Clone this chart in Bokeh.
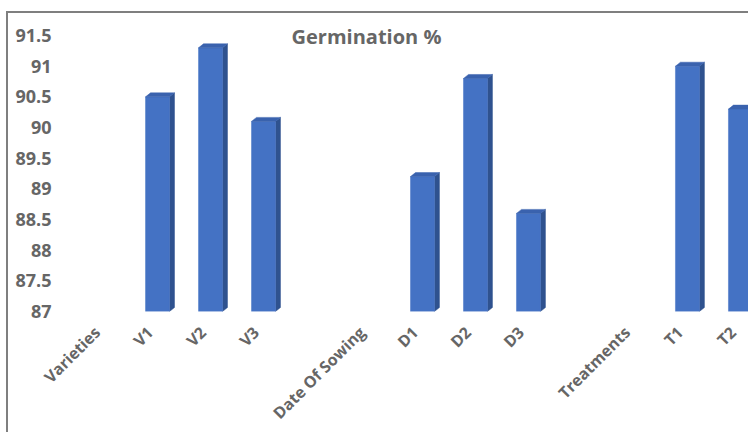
import math

from bokeh.embed import file_html
from bokeh.models import FixedTicker, Label, NumeralTickFormatter, Range1d
from bokeh.plotting import figure
from bokeh.resources import INLINE

# Category axis: group headers have no bar of their own
labels = ["Varieties", "V1", "V2", "V3", "", "Date Of Sowing",
          "D1", "D2", "D3", "", "Treatments", "T1", "T2"]
germination = [None, 90.5, 91.3, 90.1, None, None,
               89.2, 90.8, 88.6, None, None, 91.0, 90.3]
y_ticks = [87, 87.5, 88, 88.5, 89, 89.5, 90, 90.5, 91, 91.5]
title_text = "Germination %"

BASE = 87
FRONT = "#4472C4"
SIDE = "#2F528F"
TOP = "#3A62AE"
TEXT = "#666666"
FONT = "Open Sans"

W, H = 742, 421
ML, MT, MB, MR = 62, 7, 123, 0
frame_w = W - ML - MR
frame_h = H - MT - MB

x_range = Range1d(-0.642, 12.19)
y_range = Range1d(87, 91.745)

p = figure(width=W, height=H, x_range=x_range, y_range=y_range,
           output_backend="svg", toolbar_location=None,
           min_border_left=ML, min_border_top=MT,
           min_border_bottom=MB, min_border_right=MR)
p.outline_line_color = None
p.grid.grid_line_color = None
p.background_fill_color = "white"
p.border_fill_color = "white"

# chart box: grey rule on the left and top of the host element
p.styles = {
    "margin-left": "6px",
    "margin-top": "11px",
    "border-left": "2px solid #7f7f7f",
    "border-top": "2px solid #7f7f7f",
}

# pseudo-3D bars: front face, right side face, top face
half = 0.226
dx = 5 * (x_range.end - x_range.start) / frame_w
dy = 4 * (y_range.end - y_range.start) / frame_h

xs = [i for i, v in enumerate(germination) if v is not None]
vals = [v for v in germination if v is not None]

side_x, side_y, top_x, top_y = [], [], [], []
for x, v in zip(xs, vals):
    r, l = x + half, x - half
    side_x.append([r, r + dx, r + dx, r])
    side_y.append([BASE, BASE + dy, v + dy, v])
    top_x.append([l, l + dx, r + dx, r])
    top_y.append([v, v + dy, v + dy, v])

p.patches(side_x, side_y, fill_color=SIDE, line_color=SIDE, line_width=0.5)
p.quad(left=[x - half for x in xs], right=[x + half for x in xs],
       bottom=BASE, top=vals, fill_color=FRONT, line_color=FRONT, line_width=0.5)
p.patches(top_x, top_y, fill_color=TOP, line_color=TOP, line_width=0.5)

# category axis: slanted labels whose upper end sits just left of each slot
nudge = 0.14
cat_ticks = [i - nudge for i in range(len(labels))]
p.xaxis.ticker = FixedTicker(ticks=cat_ticks)
p.xaxis.major_label_overrides = {t: lab for t, lab in zip(cat_ticks, labels)}
p.xaxis.major_label_orientation = math.pi / 4
p.xaxis.major_label_standoff = 12

# value axis
p.yaxis.ticker = FixedTicker(ticks=y_ticks)
p.yaxis.formatter = NumeralTickFormatter(format="0.[0]")
p.yaxis.major_label_standoff = 13

for ax, size in ((p.xaxis, "16px"), (p.yaxis, "18px")):
    ax.axis_line_color = None
    ax.major_tick_line_color = None
    ax.minor_tick_line_color = None
    ax.major_label_text_font = FONT
    ax.major_label_text_font_style = "bold"
    ax.major_label_text_font_size = size
    ax.major_label_text_color = TEXT

p.add_layout(Label(x=296, y=275, x_units="screen", y_units="screen",
                   text=title_text, text_align="center", text_baseline="middle",
                   text_font=FONT, text_font_style="bold", text_font_size="20px",
                   text_color=TEXT))

open("out.html", "w").write(file_html(p, INLINE))
